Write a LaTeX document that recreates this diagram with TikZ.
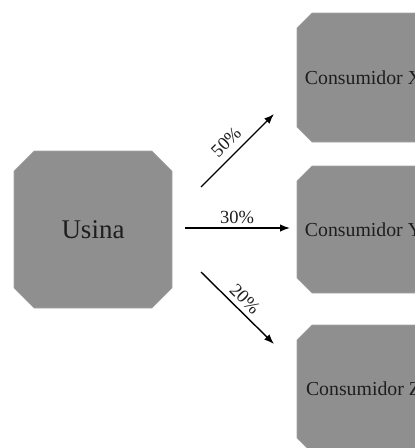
\documentclass[tikz,border=0pt]{standalone}
\usepackage{fontspec}
\setmainfont{Liberation Serif}
\usetikzlibrary{shapes.misc,arrows.meta}
\definecolor{boxgray}{HTML}{8F8F8F}
\definecolor{inkgray}{HTML}{1E1E1E}
\begin{document}
\begin{tikzpicture}[x=1pt,y=-1pt,
  block/.style={chamfered rectangle, chamfered rectangle xsep=8pt,
    chamfered rectangle ysep=8pt, fill=boxgray, draw=boxgray!80!white,
    line width=0.6pt, inner sep=0pt, text=inkgray},
  flow/.style={-{Latex[length=10pt,width=7.5pt]}, line width=1.4pt},
  pct/.style={font=\fontsize{18.5}{20}\selectfont, text=inkgray, inner sep=1pt}]
\useasboundingbox (0,0) rectangle (415,448);
\clip (0,0) rectangle (415,448);

% source plant
\node[block, chamfered rectangle xsep=11pt, chamfered rectangle ysep=11pt,
  minimum width=158pt, minimum height=157pt,
  font=\fontsize{27}{30}\selectfont] (usina) at (93,229.5) {Usina};

% consumers
\node[block, minimum width=133pt, minimum height=129pt,
  font=\fontsize{19.8}{22}\selectfont] (cx) at (363.5,77.5) {Consumidor X};
\node[block, minimum width=133pt, minimum height=127pt,
  font=\fontsize{19.8}{22}\selectfont] (cy) at (363.5,229.5) {Consumidor Y};
\node[block, minimum width=133pt, minimum height=128pt,
  font=\fontsize{19.8}{22}\selectfont] (cz) at (363.5,389) {Consumidor Z};

% arrow end points
\coordinate (xs) at (201,187);
\coordinate (xe) at (274,114);
\coordinate (ys) at (185,228);
\coordinate (ye) at (290,228);
\coordinate (zs) at (201,272);
\coordinate (ze) at (274,344);

\draw[flow] (xs) -- (xe);
\draw[flow] (ys) -- (ye);
\draw[flow] (zs) -- (ze);

% shares
\node[pct, rotate=45] (px) at (226,142) {50\%};
\node[pct] (py) at (237,217) {30\%};
\node[pct, rotate=-45] (pz) at (245,299) {20\%};
\end{tikzpicture}
\end{document}
